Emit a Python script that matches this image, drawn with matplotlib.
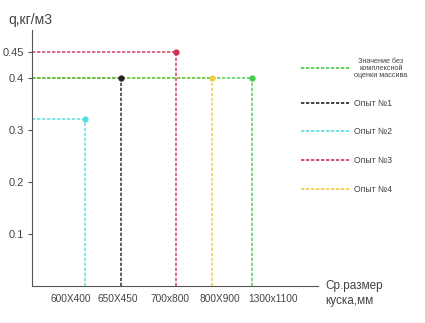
import matplotlib
matplotlib.use("Agg")
import matplotlib.pyplot as plt
from matplotlib.lines import Line2D

plt.rcParams['font.family'] = ['Liberation Sans', 'DejaVu Sans']

# Data
series = ["Значение без\nкомплексной\nоценки массива", "Опыт №1", "Опыт №2", "Опыт №3", "Опыт №4"]
x_pos = [6.1, 2.47, 1.47, 4.0, 5.0]
q_vals = [0.40, 0.40, 0.32, 0.45, 0.40]
colors = ["#44cc44", "#222222", "#55dddd", "#cc3355", "#eecc44"]
x_labels = ["600X400", "650X450", "700x800", "800X900", "1300x1100"]
x_label_pos = [1.08, 2.39, 3.83, 5.22, 6.69]
y_ticks = [0.1, 0.2, 0.3, 0.4, 0.45]

fig = plt.figure(figsize=(4.25, 3.23), dpi=100)
ax = fig.add_axes([0.0753, 0.1146, 0.673, 0.793])

# green drawn last so it stays on top at 0.4
order = [3, 1, 4, 2, 0]
for i in order:
    ax.plot([0, x_pos[i]], [q_vals[i], q_vals[i]], color=colors[i],
            linestyle=(0, (2, 1)), linewidth=1.2, alpha=0.85)
    ax.plot([x_pos[i], x_pos[i]], [0, q_vals[i]], color=colors[i],
            linestyle=(0, (2, 1)), linewidth=1.2, alpha=0.85)
for i in order:
    ax.plot(x_pos[i], q_vals[i], 'o', color=colors[i], markersize=3.5)

ax.set_xlim(0, 7.94)
ax.set_ylim(0, 0.4923)
ax.spines['top'].set_visible(False)
ax.spines['right'].set_visible(False)
ax.spines['left'].set_color('#555555')
ax.spines['bottom'].set_color('#555555')

ax.set_yticks(y_ticks)
ax.set_yticklabels([str(t) for t in y_ticks], fontsize=8, color='#444444')
ax.tick_params(axis='y', length=3, color='#555555', pad=3)
ax.set_xticks(x_label_pos)
ax.set_xticklabels(x_labels, fontsize=7.3, color='#444444')
ax.tick_params(axis='x', length=0, pad=6)

fig.text(0.02, 0.925, "q,кг/м3", fontsize=10, color='#444444')
fig.text(0.765, 0.06, "Ср.размер\nкуска,мм", fontsize=8.5, color='#444444',
         linespacing=1.3)

handles = [Line2D([0], [0], color=c, linestyle=(0, (2, 1)), linewidth=1.2)
           for c in colors]
leg = fig.legend(handles, series, loc='upper left', bbox_to_anchor=(0.69, 0.845),
                 frameon=False, handlelength=5.6, labelspacing=2.3, fontsize=6.2,
                 handletextpad=0.6)
for t in leg.get_texts():
    t.set_color('#444444')
leg.get_texts()[0].set_fontsize(5.2)
leg.get_texts()[0].set_linespacing(1.0)
leg.get_texts()[0].set_multialignment('center')

fig.savefig("out.png", dpi=100)
